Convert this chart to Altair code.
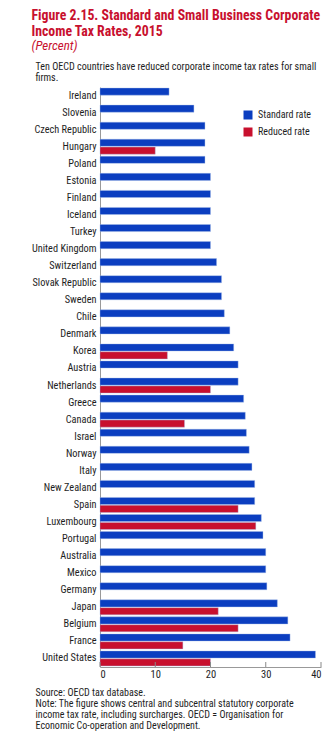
import altair as alt
import pandas as pd

countries = ["Ireland", "Slovenia", "Czech Republic", "Hungary", "Poland", "Estonia",
             "Finland", "Iceland", "Turkey", "United Kingdom", "Switzerland",
             "Slovak Republic", "Sweden", "Chile", "Denmark", "Korea", "Austria",
             "Netherlands", "Greece", "Canada", "Israel", "Norway", "Italy",
             "New Zealand", "Spain", "Luxembourg", "Portugal", "Australia", "Mexico",
             "Germany", "Japan", "Belgium", "France", "United States"]
standard = [12.5, 17.0, 19.0, 19.0, 19.0, 20.0,
            20.0, 20.0, 20.0, 20.0, 21.1,
            22.0, 22.0, 22.5, 23.5, 24.2, 25.0,
            25.0, 26.0, 26.3, 26.5, 27.0, 27.5,
            28.0, 28.0, 29.2, 29.5, 30.0, 30.0,
            30.2, 32.1, 34.0, 34.4, 39.0]
reduced = [None, None, None, 10.0, None, None,
           None, None, None, None, None,
           None, None, None, None, 12.2, None,
           20.0, None, 15.3, None, None, None,
           None, 25.0, 28.2, None, None, None,
           None, 21.4, 25.0, 15.0, 20.0]
series_names = ["Standard rate", "Reduced rate"]
x_ticks = [0, 10, 20, 30, 40]

title_lines = ["Figure 2.15. Standard and Small Business Corporate", "Income Tax Rates, 2015"]
subtitle_lines = ["(Percent)"]
intro_lines = ["Ten OECD countries have reduced corporate income tax rates for small", "firms."]
footer_lines = ["Source: OECD tax database.",
                "Note: The figure shows central and subcentral statutory corporate",
                "income tax rate, including surcharges. OECD = Organisation for",
                "Economic Co-operation and Development."]

rows = []
for c, s, r in zip(countries, standard, reduced):
    rows.append({"country": c, "series": series_names[0], "value": s})
    if r is not None:
        rows.append({"country": c, "series": series_names[1], "value": r})
df = pd.DataFrame(rows)

FONT = "Liberation Sans Narrow, Roboto Condensed, DejaVu Sans Condensed, Liberation Sans, sans-serif"
RED = "#c8102e"
BLUE = "#0b3ec0"
TXT = "#1e1e1e"
W, H = 221, 580
LEFT, TOP = 100, 87

bars = alt.Chart(df).mark_bar(stroke="#a8bfe8", strokeWidth=0.4).encode(
    y=alt.Y("country:N", sort=countries,
            scale=alt.Scale(paddingInner=0.12, paddingOuter=0.06),
            axis=alt.Axis(title=intro_lines, titleAngle=0, titleAlign="left",
                          titleBaseline="alphabetic",
                          titleX=-(LEFT - 35), titleY=69 - TOP, titleFont=FONT, titleFontSize=10.1,
                          titleFontWeight="normal", titleColor=TXT, titleLineHeight=11,
                          labelFont=FONT, labelFontSize=10.3, labelColor=TXT, ticks=False,
                          domainColor="#999999", labelPadding=4)),
    yOffset=alt.YOffset("series:N", scale=alt.Scale(domain=series_names, paddingInner=0.1)),
    x=alt.X("value:Q", scale=alt.Scale(domain=[0, 40]),
            axis=alt.Axis(values=x_ticks, grid=False, ticks=False, domainColor="#999999",
                          labelFont=FONT, labelFontSize=10.5, labelColor=TXT, labelPadding=2,
                          title=footer_lines, titleAlign="left", titleBaseline="alphabetic",
                          titleX=-(LEFT - 35), titleY=695 - (TOP + H), titleFont=FONT,
                          titleFontSize=10, titleFontWeight="normal", titleColor=TXT,
                          titleLineHeight=11.3)),
    color=alt.Color("series:N", scale=alt.Scale(domain=series_names, range=[BLUE, RED]),
                    legend=alt.Legend(title=None, orient="none", legendX=143, legendY=23,
                                      symbolType="square", symbolSize=81, symbolStrokeWidth=0,
                                      labelFont=FONT, labelFontSize=10, labelColor=TXT,
                                      labelOffset=5, rowPadding=7)),
)

tick_marks = alt.Chart(pd.DataFrame({"t": x_ticks})).mark_rule(color="#888888").encode(
    x="t:Q", y=alt.value(H - 5), y2=alt.value(H)
)

main = alt.TitleParams(
    text=title_lines, subtitle=subtitle_lines,
    anchor="start", frame="bounds", font=FONT, fontSize=13.8, fontWeight="bold", color=RED,
    lineHeight=16, subtitleFont=FONT, subtitleFontSize=13, subtitleFontStyle="italic",
    subtitleColor=RED, subtitlePadding=1, offset=8)

chart = alt.layer(bars, tick_marks).properties(
    width=W, height=H, title=main,
    autosize=alt.AutoSizeParams(type="none"),
    padding={"left": LEFT, "top": TOP, "right": 332 - LEFT - W, "bottom": 734 - TOP - H},
).configure_view(stroke=None)

chart.save("out.html", embed_options={"renderer": "svg", "actions": False})
